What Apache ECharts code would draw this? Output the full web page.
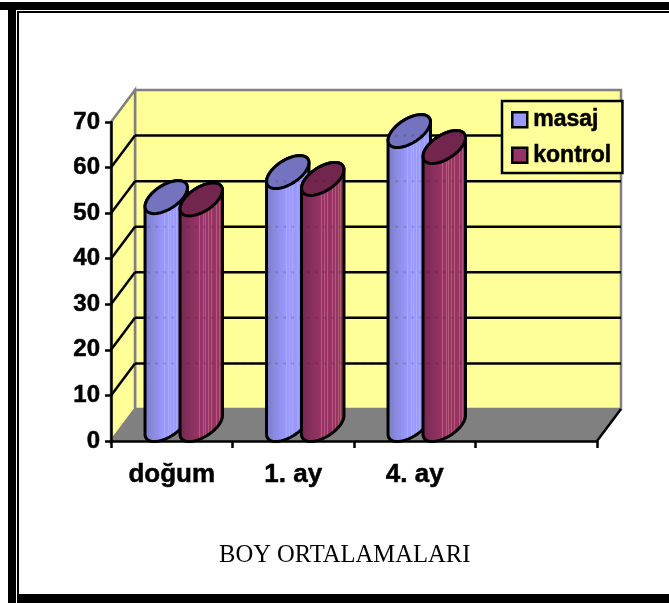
<!DOCTYPE html>
<html>
<head>
<meta charset="utf-8">
<style>html,body{margin:0;padding:0;background:#fff}#c{width:669px;height:603px}</style>
<script src="https://cdn.jsdelivr.net/npm/echarts@6/dist/echarts.min.js"></script>
</head>
<body>
<div id="c"></div>
<script>
const categories = ['doğum', '1. ay', '4. ay', ''];
const masaj = [50, 55.5, 64.5];
const kontrol = [49.5, 54, 61];
const yTicks = [0, 10, 20, 30, 40, 50, 60, 70];
const seriesNames = ['masaj', 'kontrol'];

const DEPTH_X = 24, DEPTH_Y = -32;
const BAR_A = 17.5;
const BAR_SHIFT = 17.5;
const stripes = [0.46, 0.53, 0.59, 0.65, 0.71, 0.77, 0.83, 0.89];

function stripeFill(ramp, stripe) {
  const stops = ramp.slice(0, -1).map(r => ({ offset: r[0], color: r[1] }));
  const base = ramp[ramp.length - 1][1];
  stripes.forEach(p => {
    stops.push({ offset: p, color: base });
    stops.push({ offset: p, color: stripe });
    stops.push({ offset: p + 0.02, color: stripe });
    stops.push({ offset: p + 0.02, color: base });
  });
  stops.push({ offset: 1, color: base });
  return { type: 'linear', x: 0, y: 0, x2: 1, y2: 0, colorStops: stops };
}

const fills = {
  masaj: stripeFill([[0, '#7a7ac4'], [0.25, '#8c8ce4'], [0.42, '#9999ff']], '#a9a9f6'),
  kontrol: stripeFill([[0, '#732650'], [0.25, '#86305c'], [0.42, '#993366']], '#b25c78')
};
const tops = { masaj: '#7373bf', kontrol: '#73264d' };
const legendColors = { masaj: '#9999ff', kontrol: '#993366' };

function cylinder(sign, name) {
  return function (params, api) {
    const i = api.value(0), v = api.value(1);
    const p0 = api.coord([i, 0]), p1 = api.coord([i, v]);
    const cx = p0[0] + DEPTH_X / 2 + sign * BAR_SHIFT;
    const dx = DEPTH_X / 2, dy = DEPTH_Y / 2 - 0.5;
    const by = p0[1] + DEPTH_Y / 2, ty = p1[1] + DEPTH_Y / 2;
    const t0 = Math.atan2(dx, BAR_A);
    const pt = (y, t) => [cx + BAR_A * Math.cos(t) + dx * Math.sin(t), y + dy * Math.sin(t)];
    const arc = (y, a, b) => {
      const out = [];
      for (let k = 0; k <= 48; k++) out.push(pt(y, a + (b - a) * k / 48));
      return out;
    };
    const body = arc(by, t0 + Math.PI, t0 + 2 * Math.PI).concat(arc(ty, t0, t0 + Math.PI));
    const ring = arc(ty, 0, 2 * Math.PI);
    const line = { stroke: '#000', lineWidth: 3, lineJoin: 'round' };
    return {
      type: 'group',
      children: [
        { type: 'polygon', shape: { points: body }, style: Object.assign({ fill: fills[name] }, line) },
        { type: 'polygon', shape: { points: ring }, style: Object.assign({ fill: tops[name] }, line) }
      ]
    };
  };
}

function walls(params, api) {
  const cs = params.coordSys;
  const l = cs.x, r = cs.x + cs.width, b = api.coord([0, 0])[1], t = api.coord([0, yTicks[yTicks.length - 1]])[1];
  const children = [
    { type: 'polygon', shape: { points: [[l + DEPTH_X, t + DEPTH_Y], [r + DEPTH_X, t + DEPTH_Y], [r + DEPTH_X, b + DEPTH_Y], [l + DEPTH_X, b + DEPTH_Y]] },
      style: { fill: '#ffff99', stroke: '#808080', lineWidth: 2.5 } },
    { type: 'polygon', shape: { points: [[l, t], [l + DEPTH_X, t + DEPTH_Y], [l + DEPTH_X, b + DEPTH_Y], [l, b]] },
      style: { fill: '#ffff99', stroke: '#808080', lineWidth: 2.5 } }
  ];
  yTicks.slice(1, -1).forEach(v => {
    const y = api.coord([0, v])[1];
    children.push({ type: 'line', shape: { x1: l + DEPTH_X, y1: y + DEPTH_Y, x2: r + DEPTH_X, y2: y + DEPTH_Y }, style: { stroke: '#000', lineWidth: 2.5 } });
    children.push({ type: 'line', shape: { x1: l, y1: y, x2: l + DEPTH_X, y2: y + DEPTH_Y }, style: { stroke: '#000', lineWidth: 2.5 } });
  });
  children.push({ type: 'polygon', shape: { points: [[l, b], [l + DEPTH_X, b + DEPTH_Y], [r + DEPTH_X, b + DEPTH_Y], [r, b]] },
    style: { fill: '#808080', stroke: '#808080', lineWidth: 1 } });
  children.push({ type: 'line', shape: { x1: r, y1: b, x2: r + DEPTH_X, y2: b + DEPTH_Y }, style: { stroke: '#000', lineWidth: 2.5 } });
  return { type: 'group', children };
}

function ghostGrid(params, api) {
  const cs = params.coordSys;
  const l = cs.x, r = cs.x + cs.width;
  const children = yTicks.slice(1, -1).map(v => {
    const y = api.coord([0, v])[1] + DEPTH_Y;
    return { type: 'line', shape: { x1: l + DEPTH_X + 12, y1: y, x2: r - 132, y2: y },
      style: { stroke: '#000', lineWidth: 2, lineDash: [3, 5], opacity: 0.13 } };
  });
  return { type: 'group', children };
}

const frame = [[0, 2, 669, 8], [8, 2, 8, 601], [17, 11, 652, 2], [17, 11, 2, 592], [17, 594, 652, 9]];
const heavy = { textBorderColor: '#000', textBorderWidth: 0.5 };

const chart = echarts.init(document.getElementById('c'), null, { renderer: 'canvas' });
chart.setOption({
  animation: false,
  backgroundColor: '#fff',
  title: {
    text: 'BOY ORTALAMALARI', left: 214, top: 538,
    textStyle: { fontFamily: 'Liberation Serif', fontSize: 24.6, fontWeight: 'normal', color: '#000' }
  },
  legend: {
    data: seriesNames.map(n => ({ name: n, icon: 'rect' })), orient: 'vertical', left: 502, top: 101, selectedMode: false,
    backgroundColor: '#ffff99', borderColor: '#000', borderWidth: 2.5, borderRadius: 0,
    padding: [7, 11, 6, 9], itemWidth: 15, itemHeight: 15, itemGap: 12,
    textStyle: Object.assign({ fontFamily: 'Liberation Sans', fontSize: 23, fontWeight: 'bold', color: '#000', padding: [2, 0, 0, 1] }, heavy),
    itemStyle: { borderColor: '#000', borderWidth: 2.5 },
    z: 10
  },
  graphic: frame.map(f => ({ type: 'rect', shape: { x: f[0], y: f[1], width: f[2], height: f[3] }, style: { fill: '#000' }, silent: true })),
  grid: { left: 111, width: 486, top: 122, height: 319, containLabel: false },
  xAxis: {
    type: 'category', data: categories, z: 3,
    axisLine: { show: true, lineStyle: { color: '#000', width: 2.5 } },
    axisTick: { show: true, length: 7, lineStyle: { color: '#000', width: 2.5 } },
    axisLabel: Object.assign({ color: '#000', fontFamily: 'Liberation Sans', fontWeight: 'bold', fontSize: 26, margin: 21, interval: 0 }, heavy),
    splitLine: { show: false }
  },
  yAxis: {
    type: 'value', min: 0, max: 70, interval: 10, z: 3,
    axisLine: { show: true, lineStyle: { color: '#000', width: 2.5 } },
    axisTick: { show: true, length: 6, lineStyle: { color: '#000', width: 2.5 } },
    axisLabel: Object.assign({ color: '#000', fontFamily: 'Liberation Sans', fontWeight: 'bold', fontSize: 24, margin: 11, padding: [2, 0, 0, 0] }, heavy),
    splitLine: { show: false }
  },
  series: [
    { type: 'custom', name: 'walls', z: 1, silent: true, renderItem: walls, data: [[0, 0]], encode: { x: 0, y: 1 } },
    { type: 'custom', name: 'masaj', z: 4, silent: true, renderItem: cylinder(-1, 'masaj'),
      itemStyle: { color: legendColors.masaj }, data: masaj.map((v, i) => [i, v]), encode: { x: 0, y: 1 } },
    { type: 'custom', name: 'kontrol', z: 5, silent: true, renderItem: cylinder(1, 'kontrol'),
      itemStyle: { color: legendColors.kontrol }, data: kontrol.map((v, i) => [i, v]), encode: { x: 0, y: 1 } },
    { type: 'custom', name: 'ghost', z: 6, silent: true, renderItem: ghostGrid, data: [[0, 0]], encode: { x: 0, y: 1 } }
  ]
});
</script>
</body>
</html>
